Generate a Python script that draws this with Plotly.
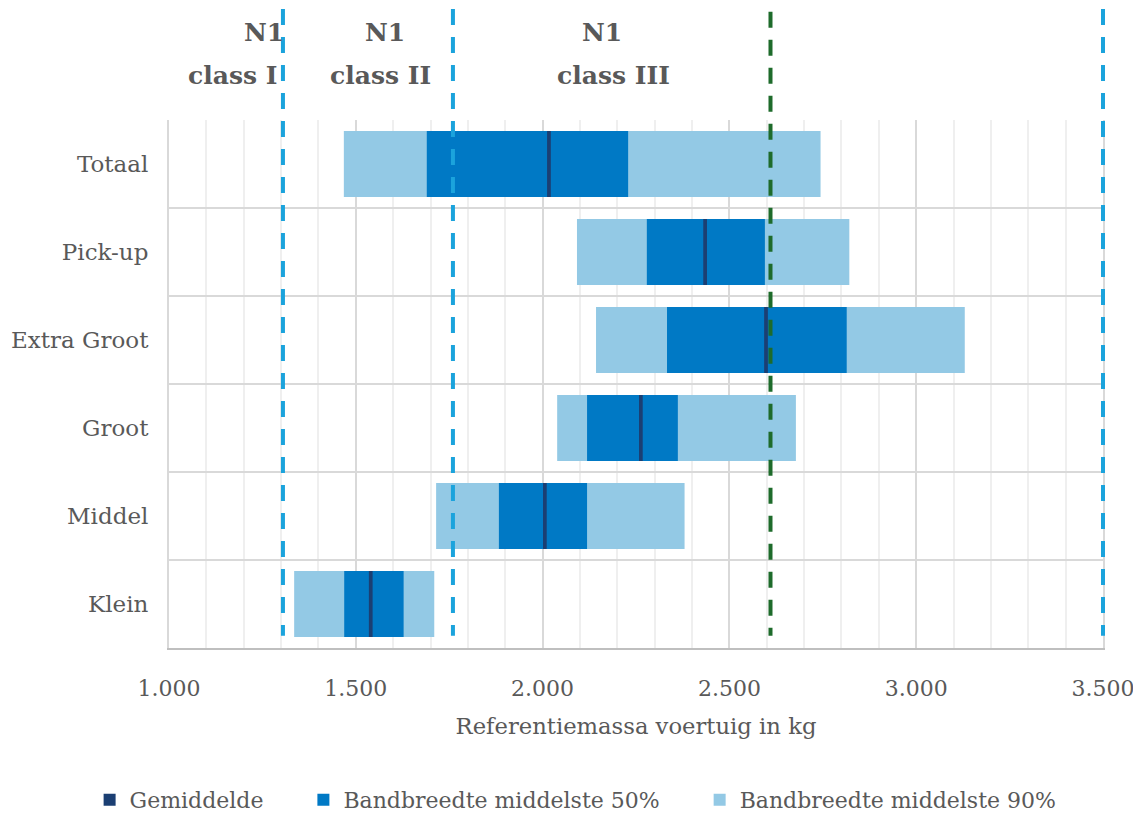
import plotly.graph_objects as go

# categorieen (boven naar beneden)
categorieen = ["Totaal", "Pick-up", "Extra Groot", "Groot", "Middel", "Klein"]

# bandbreedte middelste 90%
laag_90 = [1468, 2092, 2143, 2039, 1715, 1335]
hoog_90 = [2744, 2821, 3130, 2678, 2380, 1710]

# bandbreedte middelste 50%
laag_50 = [1690, 2279, 2333, 2119, 1883, 1469]
hoog_50 = [2229, 2595, 2814, 2362, 2119, 1628]

# gemiddelde
gemiddelde = [2017, 2435, 2598, 2263, 2006, 1540]

# grenzen N1 klassen en referentiemassa-grens
grenzen_n1 = [1305, 1760, 3500]
grens_groen = 2610

x_bereik = [1000, 3500]

kleur_90 = "#93C9E5"
kleur_50 = "#0079C5"
kleur_gem = "#1B3F73"
tekst_kleur = "#595959"
font_naam = "DejaVu Serif"
ruimte = "\u00a0" * 5

fig = go.Figure()

# 90% band
fig.add_trace(go.Bar(
    y=categorieen, x=[h - l for l, h in zip(laag_90, hoog_90)], base=laag_90,
    orientation="h", name="Bandbreedte middelste 90%", marker_color=kleur_90,
    marker_line_width=0, width=0.75))

# 50% band
fig.add_trace(go.Bar(
    y=categorieen, x=[h - l for l, h in zip(laag_50, hoog_50)], base=laag_50,
    orientation="h", name="Bandbreedte middelste 50%" + ruimte, marker_color=kleur_50,
    marker_line_width=0, width=0.75))

# gemiddelde als smalle streep
streep = 10
fig.add_trace(go.Bar(
    y=categorieen, x=[streep] * len(gemiddelde), base=[g - streep / 2 for g in gemiddelde],
    orientation="h", name="Gemiddelde" + ruimte, marker_color=kleur_gem,
    marker_line_width=0, width=0.75))


# kg naar paper-coordinaat (zodat de lijn op de rand niet wordt afgeknipt)
def naar_paper(kg):
    return (kg - x_bereik[0]) / (x_bereik[1] - x_bereik[0])


# verticale stippellijnen (van boven naar beneden getekend)
for g in grenzen_n1:
    fig.add_shape(type="line", xref="paper", yref="paper", x0=naar_paper(g), x1=naar_paper(g),
                  y0=1.21, y1=0.023, line=dict(color="#1BA3DC", width=4, dash="16px,12px"))
fig.add_shape(type="line", xref="paper", yref="paper", x0=naar_paper(grens_groen), x1=naar_paper(grens_groen),
              y0=1.205, y1=0.023, line=dict(color="#1E6B2B", width=4, dash="16px,12px"))

# klasse labels
n1_pos = [1254, 1578, 2159]
klasse_pos = [1171, 1567, 2191]
klasse_tekst = ["class I", "class II", "class III"]
for xn, xk, tekst in zip(n1_pos, klasse_pos, klasse_tekst):
    fig.add_annotation(x=xn, y=1.165, xref="x", yref="paper", text="<b>N1</b>",
                       showarrow=False, font=dict(size=25, color=tekst_kleur, family=font_naam),
                       yanchor="middle")
    fig.add_annotation(x=xk, y=1.085, xref="x", yref="paper", text="<b>" + tekst + "</b>",
                       showarrow=False, font=dict(size=25, color=tekst_kleur, family=font_naam),
                       yanchor="middle")

fig.update_layout(
    width=1133, height=808,
    margin=dict(l=161, r=38, t=112, b=168, autoexpand=False),
    barmode="overlay",
    plot_bgcolor="white", paper_bgcolor="white",
    separators=",.",
    font=dict(family=font_naam, color=tekst_kleur, size=22),
    showlegend=True,
    legend=dict(orientation="h", x=-0.085, xanchor="left",
                y=-0.288, yanchor="middle",
                traceorder="reversed", font=dict(size=22, color=tekst_kleur),
                itemwidth=30),
)

fig.update_xaxes(
    range=x_bereik, dtick=500, tick0=1000, separatethousands=True,
    showgrid=True, gridcolor="#D9D9D9", gridwidth=2,
    minor=dict(dtick=100, showgrid=True, gridcolor="#EFEFEF", gridwidth=1.5),
    zeroline=False, showline=True, linecolor="#BFBFBF", linewidth=2,
    automargin=False,
    ticks="", ticklabelstandoff=20, tickfont=dict(size=22, color=tekst_kleur),
    title=dict(text="Referentiemassa voertuig in kg", font=dict(size=22.7, color=tekst_kleur), standoff=18),
)

fig.update_yaxes(
    categoryorder="array", categoryarray=categorieen, autorange="reversed",
    tickson="boundaries", showgrid=True, gridcolor="#D9D9D9", gridwidth=2,
    showline=True, linecolor="#D9D9D9", linewidth=2, mirror=True,
    automargin=False,
    ticks="", ticklabelstandoff=14, tickfont=dict(size=23, color=tekst_kleur),
)

fig.write_html("out.html")
